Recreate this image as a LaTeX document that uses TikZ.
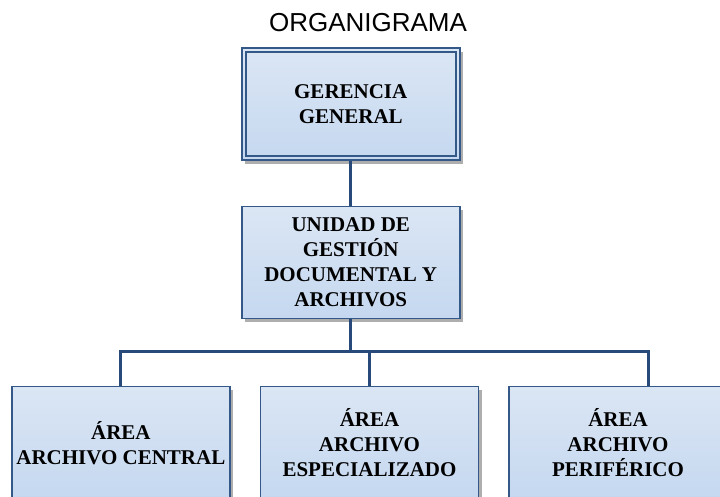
\documentclass[tikz,border=0pt]{standalone}
\usepackage{fontspec}
\setmainfont{Liberation Serif}
\newfontfamily\titlefont{Liberation Sans}
\usepackage{tikz}
\usetikzlibrary{shapes,positioning,shadows}
\usepackage{xcolor}
\definecolor{orgline}{RGB}{40,74,122}
\definecolor{orgborder}{RGB}{52,88,136}
\definecolor{orgtop}{RGB}{219,230,244}
\definecolor{orgbottom}{RGB}{197,216,240}
\tikzstyle{orgbox} = [draw=orgborder, line width=1.5pt, top color=orgtop, bottom color=orgbottom,
  minimum width=218pt, minimum height=112pt, inner sep=0pt, align=center,
  font=\bfseries\fontsize{21}{25}\selectfont,
  drop shadow={shadow xshift=3.5pt, shadow yshift=-3.5pt, opacity=0.45, fill=black!70}]
\tikzstyle{conn} = [line width=3pt, color=orgline]

\begin{document}
\begin{tikzpicture}[x=1pt, y=-1pt]
\path[use as bounding box, clip] (0,0) rectangle (720,497);

% titulo
\node[font=\titlefont\fontsize{26}{30}\selectfont] (title) at (368,23) {ORGANIGRAMA};

% GERENCIA GENERAL
\node[orgbox, line width=2pt] (ger) at (350.75,104.3) {GERENCIA\\GENERAL};
\draw[orgborder, line width=2pt] ([shift={(4.8pt,-4.8pt)}]ger.north west) rectangle ([shift={(-4.8pt,4.8pt)}]ger.south east);

% UNIDAD
\node[orgbox] (unidad) at (350.75,262.5) {UNIDAD DE\\GESTIÓN\\DOCUMENTAL Y\\ARCHIVOS};

% areas
\node[orgbox] (central) at (120.85,442.7) {ÁREA\\ARCHIVO CENTRAL};
\node[orgbox] (especial) at (369.5,442.7) {ÁREA\\ARCHIVO\\ESPECIALIZADO};
\node[orgbox] (periferico) at (618,442.7) {ÁREA\\ARCHIVO\\PERIFÉRICO};

% conectores
\coordinate (bus) at (0,351);
\draw[conn] (ger.south) -- (unidad.north);
\draw[conn] (unidad.south) -- (unidad.south |- bus);
\draw[conn] (central.north) -- (central.north |- bus) -- ([xshift=30pt]periferico.north |- bus) -- ([xshift=30pt]periferico.north);
\draw[conn] (especial.north) -- (especial.north |- bus);
\end{tikzpicture}
\end{document}
